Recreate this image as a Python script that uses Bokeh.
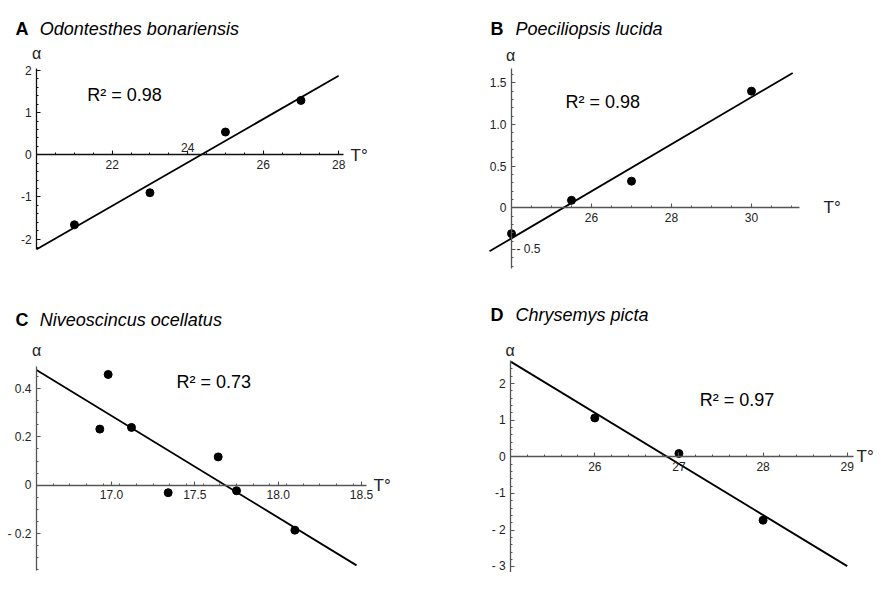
import numpy as np
from bokeh.plotting import figure
from bokeh.models import LinearAxis, FixedTicker, Range1d
from bokeh.layouts import gridplot
from bokeh.core.properties import value
from bokeh.embed import file_html
from bokeh.resources import INLINE

# ---------------- data ----------------
letters = ["A", "B", "C", "D"]
species = ["Odontesthes bonariensis", "Poeciliopsis lucida",
           "Niveoscincus ocellatus", "Chrysemys picta"]
r2_values = ["0.98", "0.98", "0.73", "0.97"]

a_temp = [21.0, 23.0, 25.0, 27.0]
a_alpha = [-1.66, -0.90, 0.54, 1.29]
b_temp = [24.0, 25.5, 27.0, 30.0]
b_alpha = [-0.31, 0.09, 0.32, 1.40]
c_temp = [16.93, 16.98, 17.12, 17.34, 17.64, 17.75, 18.10]
c_alpha = [0.232, 0.458, 0.239, -0.031, 0.117, -0.023, -0.186]
d_temp = [26.0, 27.0, 28.0]
d_alpha = [1.06, 0.09, -1.73]

a_xticks = [22, 24, 26, 28]
a_xlabels = ["22", "", "26", "28"]
a_yticks = [-2, -1, 0, 1, 2]
a_ylabels = ["-2", "-1", "0", "1", "2"]

b_xticks = [26, 28, 30]
b_xlabels = ["26", "28", "30"]
b_yticks = [-0.5, 0.0, 0.5, 1.0, 1.5]
b_ylabels = ["", "0", "0.5", "1.0", "1.5"]

c_xticks = [17.0, 17.5, 18.0, 18.5]
c_xlabels = ["17.0", "17.5", "18.0", "18.5"]
c_yticks = [-0.2, 0.0, 0.2, 0.4]
c_ylabels = ["- 0.2", "0", "0.2", "0.4"]

d_xticks = [26, 27, 28, 29]
d_xlabels = ["26", "27", "28", "29"]
d_yticks = [-3, -2, -1, 0, 1, 2]
d_ylabels = ["- 3", "- 2", "-1", "0", "1", "2"]

# ---------------- layout / styling ----------------
W, H = 438, 286
FONT = value("Liberation Sans")
SHIFT = -17  # bottom row moved up a little so its lowest labels stay inside

# each panel: page origin, two (value, pixel) anchors per axis, label pixels
panels = [
    dict(t=a_temp, a=a_alpha, org=(0, 0), dy=0,
         xref=((22, 111.7), (28, 338.2)), yref=((0, 154.3), (2, 70.0)),
         xb=(20.0, 28.13), yb=(-2.25, 2.05), fit=(20.0, 28.0),
         xt=a_xticks, xl=a_xlabels, xm=0.5, yt=a_yticks, yl=a_ylabels, ym=0.2,
         axc="#111111", title=(15, 28.3, 39.3), alpha=(36, 53),
         T=(350, 155), r2=(86.7, 94.3)),
    dict(t=b_temp, a=b_alpha, org=(W, 0), dy=0,
         xref=((26, 591.0), (30, 751.0)), yref=((0, 207.3), (1.5, 82.3)),
         xb=(24.0, 31.2), yb=(-0.73, 1.67), fit=(23.45, 31.03),
         xt=b_xticks, xl=b_xlabels, xm=0.5, yt=b_yticks, yl=b_ylabels, ym=0.1,
         axc="#555555", title=(490, 28.3, 515), alpha=(510, 55),
         T=(823, 207.3), r2=(565, 101.7)),
    dict(t=c_temp, a=c_alpha, org=(0, H), dy=SHIFT,
         xref=((17, 111.0), (18, 277.7)), yref=((0, 501.7), (0.4, 405.0)),
         xb=(16.55, 18.53), yb=(-0.352, 0.492), fit=(16.55, 18.47),
         xt=c_xticks, xl=c_xlabels, xm=0.1, yt=c_yticks, yl=c_ylabels, ym=0.05,
         axc="#555555", title=(15, 336.7, 39.3), alpha=(36, 366.7),
         T=(373, 501.7), r2=(176, 398.3)),
    dict(t=d_temp, a=d_alpha, org=(W, H), dy=SHIFT,
         xref=((26, 594.3), (29, 846.7)), yref=((0, 473.3), (2, 400.0)),
         xb=(25.0, 29.08), yb=(-3.2, 2.62), fit=(25.0, 29.0),
         xt=d_xticks, xl=d_xlabels, xm=0.2, yt=d_yticks, yl=d_ylabels, ym=0.2,
         axc="#555555", title=(490, 331.7, 515), alpha=(509.7, 366.7),
         T=(856, 473.3), r2=(699.3, 416.7)),
]


def make_map(cfg):
    (xv1, xp1), (xv2, xp2) = cfg["xref"]
    (yv1, yp1), (yv2, yp2) = cfg["yref"]
    dy = cfg["dy"]
    yp1, yp2 = yp1 + dy, yp2 + dy
    bx = (xp2 - xp1) / (xv2 - xv1)
    by = (yp2 - yp1) / (yv2 - yv1)

    def fx(px):
        return xv1 + (px - xp1) / bx

    def fy(py):
        return yv1 + (py + dy - yp1) / by

    def fy_raw(py):
        return yv1 + (py - yp1) / by

    ox, oy = cfg["org"]
    xr = (fx(ox), fx(ox + W))
    yr = (fy_raw(oy + H), fy_raw(oy))
    return fx, fy, xr, yr


def style_axis(ax, color):
    ax.axis_line_color = color
    ax.axis_line_width = 1.3
    ax.major_tick_line_color = color
    ax.minor_tick_line_color = color
    ax.major_tick_line_width = 1.1
    ax.minor_tick_line_width = 1.0
    ax.major_tick_in = 4
    ax.major_tick_out = 0
    ax.minor_tick_in = 2
    ax.minor_tick_out = 0
    ax.major_label_text_font = "Liberation Sans"
    ax.major_label_text_font_size = "12px"
    ax.major_label_text_color = "#222222"
    ax.major_label_standoff = 5


figs = []
for i, cfg in enumerate(panels):
    fx, fy, xr, yr = make_map(cfg)
    p = figure(width=W, height=H, output_backend="svg", toolbar_location=None,
               x_range=Range1d(*xr), y_range=Range1d(*yr),
               x_axis_location=None, y_axis_location=None,
               min_border=0, outline_line_color=None, tools="")
    p.xgrid.visible = False
    p.ygrid.visible = False

    xmin_ax = cfg["xb"][0]
    xminor = list(np.round(np.arange(xmin_ax, cfg["xb"][1] + 1e-9, cfg["xm"]), 4))
    yminor = list(np.round(np.arange(np.ceil(cfg["yb"][0] / cfg["ym"]) * cfg["ym"],
                                     cfg["yb"][1] + 1e-9, cfg["ym"]), 4))

    xax = LinearAxis(fixed_location=0,
                     ticker=FixedTicker(ticks=cfg["xt"], minor_ticks=xminor),
                     major_label_overrides=dict(zip(cfg["xt"], cfg["xl"])),
                     bounds=cfg["xb"])
    yax = LinearAxis(fixed_location=xmin_ax,
                     ticker=FixedTicker(ticks=cfg["yt"], minor_ticks=yminor),
                     major_label_overrides=dict(zip(cfg["yt"], cfg["yl"])),
                     bounds=cfg["yb"])
    style_axis(xax, cfg["axc"])
    style_axis(yax, cfg["axc"])
    p.add_layout(xax, "below")
    p.add_layout(yax, "left")

    # regression line fitted to the data
    slope, intercept = np.polyfit(cfg["t"], cfg["a"], 1)
    lx = np.array(cfg["fit"])
    p.line(lx, slope * lx + intercept, line_color="black", line_width=1.8)

    # points
    p.scatter(cfg["t"], cfg["a"], size=8, color="black")

    # titles
    tx, ty, nx = cfg["title"]
    p.text([fx(tx)], [fy(ty)], text=[letters[i]], text_font=FONT,
           text_font_size="18px", text_font_style="bold",
           text_baseline="alphabetic", text_align="left", text_color="black")
    p.text([fx(nx)], [fy(ty)], text=[species[i]], text_font=FONT,
           text_font_size="18px", text_font_style="italic",
           text_baseline="alphabetic", text_align="left", text_color="black")

    # alpha label
    p.text([fx(cfg["alpha"][0])], [fy(cfg["alpha"][1])], text=["α"], text_font=FONT,
           text_font_size="16px", text_baseline="middle", text_align="center",
           text_color="#222222")
    # T label
    p.text([fx(cfg["T"][0])], [fy(cfg["T"][1])], text=["T°"], text_font=FONT,
           text_font_size="17px", text_baseline="middle", text_align="left",
           text_color="#222222")
    # R2 label
    p.text([fx(cfg["r2"][0])], [fy(cfg["r2"][1])], text=["R² = " + r2_values[i]],
           text_font=FONT, text_font_size="18px", text_baseline="middle",
           text_align="left", text_color="black")
    figs.append(p)

# tick labels moved aside to keep clear of the fitted lines
figs[0].text([a_xticks[1]], [0], text=["24"], text_font=FONT, text_font_size="12px",
             text_align="center", text_baseline="bottom", y_offset=-3,
             text_color="#222222")
figs[1].text([b_temp[0]], [b_yticks[0]], text=["- 0.5"], text_font=FONT,
             text_font_size="12px", text_align="left", text_baseline="middle",
             x_offset=5, text_color="#222222")

grid = gridplot([[figs[0], figs[1]], [figs[2], figs[3]]], toolbar_location=None)

open("out.html", "w").write(file_html(grid, INLINE))
